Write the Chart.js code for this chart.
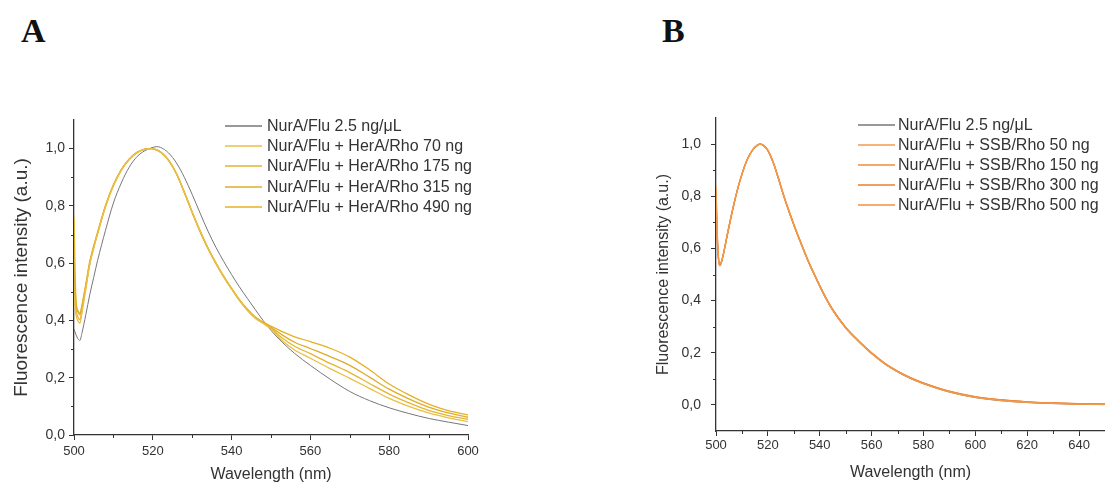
<!DOCTYPE html>
<html lang="en">
<head>
<meta charset="UTF-8">
<title>NurA/Flu fluorescence spectra</title>
<script src="https://cdn.jsdelivr.net/npm/chart.js"></script>
<style>
    body {
        margin: 0;
        width: 1105px;
        height: 484px;
        overflow: hidden;
        position: relative;
        background: #fff;
    }
    .letter {
        position: absolute;
        top: 14px;
        font-family: "Liberation Serif", "Times New Roman", serif;
        font-weight: bold;
        font-size: 34px;
        line-height: 1;
        color: #111;
    }
    #letterA { left: 21px; }
    #letterB { left: 662px; }
    .box {
        position: absolute;
        top: 0;
        height: 484px;
    }
    #boxA { left: 0; width: 500px; }
    #boxB { left: 640px; width: 465px; }
</style>
</head>
<body>
<div class="letter" id="letterA">A</div>
<div class="letter" id="letterB">B</div>
<div class="box" id="boxA"><canvas id="chartA"></canvas></div>
<div class="box" id="boxB"><canvas id="chartB"></canvas></div>

<script>
// ---- panel A : NurA/Flu + HerA/Rho ----
const wavelengthA = [500, 500.5, 501, 501.5, 502, 503, 504, 505, 506, 508, 510, 512, 514, 516, 518, 519.5,
    521, 522, 524, 526, 528, 530, 532, 534, 536, 538, 540, 542, 544, 546, 548,
    550, 553, 556, 560, 565, 570, 575, 580, 585, 590, 595, 600];

const nuraA = [0.37, 0.35, 0.336, 0.33, 0.355, 0.42, 0.49, 0.55, 0.61, 0.715, 0.81, 0.88, 0.935, 0.972, 0.993, 1.002,
    1.007, 1.004, 0.985, 0.95, 0.9, 0.84, 0.775, 0.712, 0.656, 0.606, 0.56, 0.517, 0.477, 0.438, 0.40,
    0.365, 0.322, 0.285, 0.243, 0.195, 0.152, 0.12, 0.095, 0.075, 0.058, 0.045, 0.033];
const herA70 = [0.48, 0.42, 0.398, 0.39, 0.425, 0.51, 0.595, 0.652, 0.703, 0.797, 0.87, 0.925, 0.962, 0.986, 0.998, 1.0,
    0.995, 0.987, 0.959, 0.912, 0.848, 0.779, 0.714, 0.654, 0.602, 0.555, 0.512, 0.472, 0.437, 0.41, 0.39,
    0.37, 0.327, 0.297, 0.268, 0.232, 0.198, 0.163, 0.128, 0.1, 0.077, 0.06, 0.047];
const herA175 = [0.52, 0.44, 0.412, 0.402, 0.435, 0.515, 0.598, 0.654, 0.704, 0.798, 0.871, 0.925, 0.962, 0.986, 0.998, 1.0,
    0.996, 0.988, 0.96, 0.913, 0.848, 0.778, 0.712, 0.652, 0.6, 0.553, 0.51, 0.47, 0.435, 0.408, 0.39,
    0.373, 0.337, 0.31, 0.284, 0.25, 0.218, 0.18, 0.143, 0.112, 0.086, 0.068, 0.055];
const herA315 = [0.6, 0.46, 0.43, 0.42, 0.447, 0.522, 0.602, 0.657, 0.706, 0.8, 0.872, 0.926, 0.963, 0.987, 0.998, 1.0,
    0.996, 0.988, 0.96, 0.913, 0.848, 0.777, 0.711, 0.651, 0.599, 0.552, 0.51, 0.47, 0.436, 0.41, 0.392,
    0.376, 0.348, 0.324, 0.302, 0.274, 0.243, 0.202, 0.16, 0.126, 0.097, 0.077, 0.062];
const herA490 = [0.76, 0.47, 0.435, 0.425, 0.452, 0.527, 0.606, 0.66, 0.709, 0.802, 0.874, 0.927, 0.963, 0.987, 0.998, 1.0,
    0.995, 0.987, 0.959, 0.912, 0.847, 0.777, 0.711, 0.652, 0.6, 0.554, 0.512, 0.473, 0.44, 0.413, 0.394,
    0.38, 0.36, 0.343, 0.326, 0.303, 0.272, 0.228, 0.178, 0.14, 0.108, 0.085, 0.07];
const labelsA = ['NurA/Flu 2.5 ng/\u03bcL', 'NurA/Flu + HerA/Rho 70 ng', 'NurA/Flu + HerA/Rho 175 ng',
    'NurA/Flu + HerA/Rho 315 ng', 'NurA/Flu + HerA/Rho 490 ng'];

// ---- panel B : NurA/Flu + SSB/Rho ----
const wavelengthB = [500, 500.5, 501, 501.5, 502, 503, 504, 506, 508, 510, 512, 514, 516, 517, 518,
    520, 522, 524, 526, 528, 530, 532, 534, 536, 538, 540, 542, 545, 550, 555,
    560, 565, 570, 575, 580, 590, 600, 610, 620, 630, 640, 650];

const nuraB = [0.74, 0.63, 0.555, 0.533, 0.544, 0.584, 0.634, 0.729, 0.814, 0.884, 0.939, 0.976, 0.996, 1.0, 0.997,
    0.975, 0.93, 0.869, 0.804, 0.744, 0.689, 0.637, 0.587, 0.539, 0.496, 0.454, 0.414, 0.362, 0.294, 0.242,
    0.196, 0.157, 0.126, 0.101, 0.081, 0.049, 0.028, 0.016, 0.009, 0.005, 0.002, 0.001];
const ssb50 = [0.84, 0.66, 0.56, 0.535, 0.545, 0.585, 0.635, 0.73, 0.815, 0.885, 0.94, 0.976, 0.996, 1.0, 0.997,
    0.975, 0.93, 0.87, 0.805, 0.745, 0.69, 0.638, 0.588, 0.54, 0.497, 0.455, 0.415, 0.363, 0.295, 0.243,
    0.197, 0.158, 0.127, 0.102, 0.082, 0.05, 0.029, 0.017, 0.01, 0.006, 0.003, 0.002];
const ssb150 = [0.82, 0.65, 0.558, 0.536, 0.546, 0.586, 0.636, 0.731, 0.815, 0.885, 0.94, 0.976, 0.996, 1.0, 0.997,
    0.976, 0.931, 0.871, 0.806, 0.746, 0.691, 0.639, 0.589, 0.541, 0.498, 0.456, 0.416, 0.364, 0.296, 0.244,
    0.198, 0.159, 0.128, 0.103, 0.083, 0.051, 0.03, 0.018, 0.011, 0.007, 0.004, 0.003];
const ssb300 = [0.8, 0.64, 0.557, 0.535, 0.545, 0.585, 0.635, 0.73, 0.815, 0.885, 0.94, 0.976, 0.996, 1.0, 0.997,
    0.976, 0.931, 0.871, 0.806, 0.747, 0.692, 0.64, 0.59, 0.542, 0.499, 0.457, 0.417, 0.365, 0.297, 0.245,
    0.199, 0.16, 0.129, 0.104, 0.084, 0.052, 0.031, 0.019, 0.012, 0.008, 0.005, 0.003];
const ssb500 = [0.78, 0.63, 0.556, 0.534, 0.544, 0.584, 0.634, 0.729, 0.814, 0.884, 0.94, 0.976, 0.996, 1.0, 0.997,
    0.976, 0.932, 0.872, 0.807, 0.748, 0.693, 0.641, 0.591, 0.543, 0.5, 0.458, 0.418, 0.366, 0.298, 0.246,
    0.2, 0.161, 0.13, 0.105, 0.085, 0.053, 0.032, 0.02, 0.012, 0.008, 0.005, 0.004];
const labelsB = ['NurA/Flu 2.5 ng/\u03bcL', 'NurA/Flu + SSB/Rho 50 ng', 'NurA/Flu + SSB/Rho 150 ng',
    'NurA/Flu + SSB/Rho 300 ng', 'NurA/Flu + SSB/Rho 500 ng'];

// tick values
const xTicksA = [500, 520, 540, 560, 580, 600];
const xTicksB = [500, 520, 540, 560, 580, 600, 620, 640];
const yTicks = [0, 0.2, 0.4, 0.6, 0.8, 1.0];
const minorXA = [510, 530, 550, 570, 590];
const minorXB = [510, 530, 550, 570, 590, 610, 630];
const minorY = [0.1, 0.3, 0.5, 0.7, 0.9];

Chart.defaults.font.family = '"Liberation Sans", Arial, sans-serif';
Chart.defaults.color = '#333';

// legend drawn inside the plot, top right
const inlineLegend = {
    id: 'inlineLegend',
    afterDatasetsDraw(chart, args, opts) {
        const { ctx, chartArea } = chart;
        ctx.save();
        ctx.font = opts.font;
        ctx.textBaseline = 'middle';
        ctx.fillStyle = '#333';
        chart.data.datasets.forEach((ds, i) => {
            const y = Math.round(chartArea.top + opts.top + i * opts.gap);
            const x0 = chartArea.left + opts.left;
            ctx.strokeStyle = ds.borderColor;
            ctx.lineWidth = 1.6;
            ctx.beginPath();
            ctx.moveTo(x0, y);
            ctx.lineTo(x0 + opts.lineLen, y);
            ctx.stroke();
            ctx.fillText(ds.label, x0 + opts.lineLen + opts.textGap, y + 1);
        });
        ctx.restore();
    }
};

// short unlabelled ticks between the labelled ones
const minorTicks = {
    id: 'minorTicks',
    afterDraw(chart, args, opts) {
        const ctx = chart.ctx;
        const xs = chart.scales.x, ys = chart.scales.y;
        ctx.save();
        ctx.strokeStyle = '#333';
        ctx.lineWidth = 1;
        opts.x.forEach(v => {
            const px = Math.round(xs.getPixelForValue(v)) + 0.5;
            ctx.beginPath();
            ctx.moveTo(px, xs.top);
            ctx.lineTo(px, xs.top + opts.len);
            ctx.stroke();
        });
        opts.y.forEach(v => {
            const py = Math.round(ys.getPixelForValue(v)) + 0.5;
            ctx.beginPath();
            ctx.moveTo(ys.right, py);
            ctx.lineTo(ys.right - opts.len, py);
            ctx.stroke();
        });
        ctx.restore();
    }
};

function toPoints(xs, ys) {
    return xs.map((x, i) => ({ x: x, y: ys[i] }));
}

function makeChart(id, p) {
    const datasets = p.series.map((s, i) => ({
        label: p.labels[i],
        data: toPoints(p.wl, s),
        borderColor: p.colors[i],
        borderWidth: i === 0 ? 1 : 1.3,
        pointRadius: 0,
        cubicInterpolationMode: 'monotone',
        order: i === 0 ? 1 : 0
    }));
    return new Chart(document.getElementById(id), {
        type: 'line',
        data: { datasets: datasets },
        options: {
            responsive: true,
            maintainAspectRatio: false,
            animation: false,
            events: [],
            layout: { padding: p.padding },
            plugins: {
                legend: { display: false },
                tooltip: { enabled: false },
                inlineLegend: p.legend,
                minorTicks: { x: p.minorX, y: minorY, len: 3 }
            },
            scales: {
                x: {
                    type: 'linear',
                    min: 500,
                    max: p.xMax,
                    border: { color: '#333', width: 1.3 },
                    grid: { drawOnChartArea: false, drawTicks: true, tickLength: 5, color: '#333' },
                    ticks: { padding: p.xPad, maxRotation: 0, autoSkip: false, font: { size: 13 }, color: '#333' },
                    afterBuildTicks: s => { s.ticks = p.xTicks.map(v => ({ value: v })); },
                    title: { display: true, text: 'Wavelength (nm)', font: { size: 16 }, color: '#333',
                        padding: { top: 0, bottom: p.xTitlePad } },
                    afterFit: s => { s.height = p.xHeight; s.paddingLeft = 0; s.paddingRight = 0; }
                },
                y: {
                    min: p.yMin,
                    max: 1.1,
                    border: { color: '#333', width: 1.3 },
                    grid: { drawOnChartArea: false, drawTicks: true, tickLength: 5, color: '#333' },
                    ticks: { padding: p.yPad, autoSkip: false, font: { size: 14 }, color: '#333',
                        callback: v => v.toFixed(1).replace('.', ',') },
                    afterBuildTicks: s => { s.ticks = yTicks.map(v => ({ value: v })); },
                    title: { display: true, text: 'Fluorescence intensity (a.u.)', font: { size: p.yTitleSize }, color: '#333',
                        padding: { top: p.yTitlePad, bottom: 0 } },
                    afterFit: s => { s.width = p.yWidth; s.paddingTop = 0; s.paddingBottom = 0; }
                }
            }
        },
        plugins: [inlineLegend, minorTicks]
    });
}

makeChart('chartA', {
    wl: wavelengthA,
    series: [nuraA, herA70, herA175, herA315, herA490],
    labels: labelsA,
    colors: ['#777777', '#e9bf45', '#e3b533', '#ddac2a', '#e6b024'],
    padding: { left: 0, top: 120, right: 32, bottom: 0 },
    xMax: 600, yMin: 0,
    xTicks: xTicksA,
    xHeight: 49, yWidth: 74,
    xPad: 4, yPad: 4, xTitlePad: 0,
    yTitleSize: 19, yTitlePad: 10,
    minorX: minorXA,
    legend: { font: '16px "Liberation Sans", Arial, sans-serif', left: 151, top: 5.7, gap: 20.3, lineLen: 37, textGap: 5 }
});

makeChart('chartB', {
    wl: wavelengthB,
    series: [nuraB, ssb50, ssb150, ssb300, ssb500],
    labels: labelsB,
    colors: ['#777777', '#f29a4c', '#ee8c3b', '#e8812f', '#f09042'],
    padding: { left: 0, top: 118, right: 0, bottom: 0 },
    xMax: 650, yMin: -0.1,
    xTicks: xTicksB,
    xHeight: 53, yWidth: 76,
    xPad: 2, yPad: 10, xTitlePad: 2,
    yTitleSize: 16, yTitlePad: 14,
    minorX: minorXB,
    legend: { font: '16px "Liberation Sans", Arial, sans-serif', left: 142, top: 7, gap: 20, lineLen: 37, textGap: 3 }
});
</script>
</body>
</html>
